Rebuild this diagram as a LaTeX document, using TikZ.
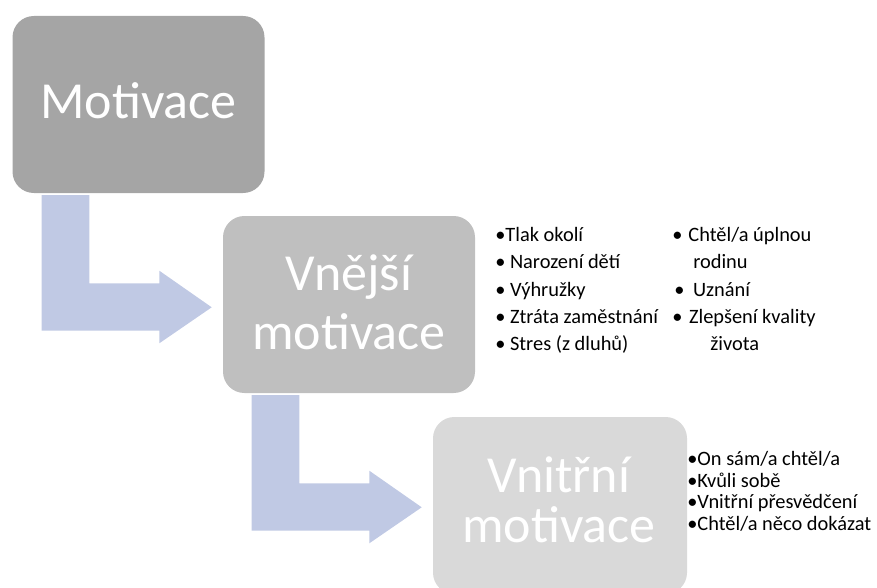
\documentclass[tikz,border=0pt]{standalone}
\usepackage{fontspec}
\setmainfont{Carlito}
\definecolor{boxA}{RGB}{165,165,165}
\definecolor{boxB}{RGB}{191,191,191}
\definecolor{boxC}{RGB}{217,217,217}
\definecolor{arrowc}{RGB}{192,201,228}
\begin{document}
\begin{tikzpicture}[x=0.75pt,y=-0.75pt,
  mbox/.style={rectangle, rounded corners=16pt, inner sep=0pt, minimum width=189pt, minimum height=132.75pt},
  btitle/.style={anchor=base, text=white, font=\fontsize{39pt}{46pt}\selectfont, inner sep=0pt},
  item/.style={anchor=base west, font=\fontsize{15.3pt}{18pt}\selectfont, inner sep=0pt},
  bentarrow/.style={fill=arrowc}]
\useasboundingbox (0,0) rectangle (877,588);
\begin{scope}
\clip (0,0) rectangle (877,588);
% arrows
\fill[bentarrow] (41.7,195) -- (89.3,195) -- (89.3,283.3) -- (159.3,283.3) -- (159.3,270.7)
  -- (211.7,307.3) -- (159.3,343.3) -- (159.3,330.7) -- (41.7,330.7) -- cycle;
\fill[bentarrow] (251.7,395) -- (299.3,395) -- (299.3,483.3) -- (369.3,483.3) -- (369.3,470.7)
  -- (421.7,507.3) -- (369.3,543.3) -- (369.3,530.7) -- (251.7,530.7) -- cycle;
% boxes
\node[mbox, fill=boxA] (m) at (138.5,104.5) {};
\node[mbox, fill=boxB] (ext) at (349,304.5) {};
\node[mbox, fill=boxC, minimum width=190.5pt] (int) at (560,505.5) {};
\end{scope}
% titles
\node[btitle] (t1) at (138.5,119) {Motivace};
\node[btitle] (t2a) at (349,290) {Vnější};
\node[btitle] (t2b) at (349,349) {motivace};
\node[btitle] (t3a) at (559,492) {Vnitřní};
\node[btitle] (t3b) at (559,542) {motivace};
% external list, column 1
\node[item] (e1) at (495,241) {•Tlak okolí};
\node[item] (e2) at (495,268.5) {• Narození dětí};
\node[item] (e3) at (495,296) {• Výhružky};
\node[item] (e4) at (495,323) {• Ztráta zaměstnání};
\node[item] (e5) at (495,350) {• Stres (z dluhů)};
% external list, column 2
\node[item] (f1) at (672,241) {•\hspace{4.5pt}Chtěl/a úplnou};
\node[item] (f2) at (693,268.5) {rodinu};
\node[item] (f3) at (674,296) {•\hspace{6.5pt}Uznání};
\node[item] (f4) at (672,323) {•\hspace{5pt}Zlepšení kvality};
\node[item] (f5) at (710,350) {života};
% internal list
\node[item] (i1) at (687,465) {•On sám/a chtěl/a};
\node[item] (i2) at (687,487) {•Kvůli sobě};
\node[item] (i3) at (687,508.5) {•Vnitřní přesvědčení};
\node[item] (i4) at (687,530) {•Chtěl/a něco dokázat};
\end{tikzpicture}
\end{document}
